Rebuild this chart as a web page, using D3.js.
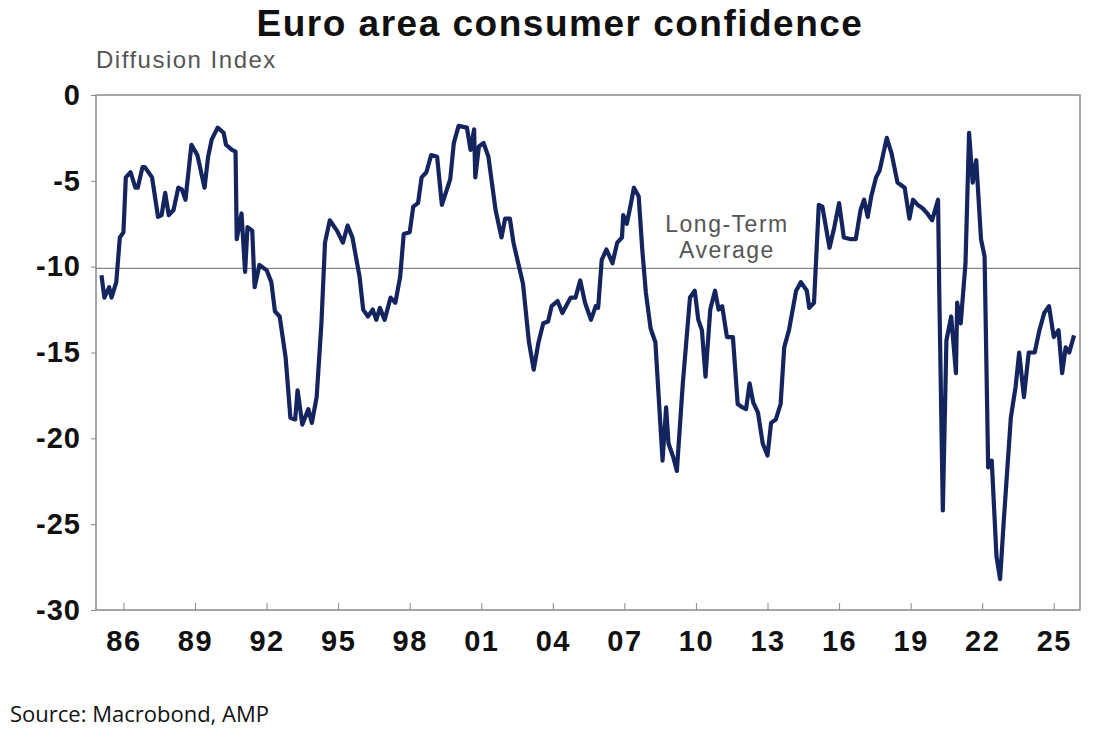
<!DOCTYPE html>
<html><head><meta charset="utf-8">
<script src="https://cdn.jsdelivr.net/npm/d3@7/dist/d3.min.js"></script>
<style>body{margin:0;background:#fff}text{font-family:Arial,"Liberation Sans",sans-serif}</style>
</head><body><svg id="c" width="1116" height="738"></svg>
<script>
const years=[1985.08,1985.2,1985.4,1985.5,1985.7,1985.85,1986,1986.1,1986.3,1986.5,1986.6,1986.8,1986.9,1987.2,1987.45,1987.6,1987.75,1987.9,1988.1,1988.3,1988.45,1988.6,1988.85,1989.1,1989.4,1989.55,1989.7,1989.95,1990.2,1990.3,1990.55,1990.7,1990.75,1990.95,1991.1,1991.2,1991.4,1991.5,1991.7,1992,1992.2,1992.35,1992.55,1992.8,1993,1993.2,1993.3,1993.5,1993.75,1993.9,1994.1,1994.3,1994.45,1994.65,1994.95,1995.2,1995.4,1995.6,1995.9,1996.05,1996.25,1996.45,1996.6,1996.75,1996.95,1997.2,1997.4,1997.6,1997.75,1998,1998.15,1998.35,1998.5,1998.7,1998.9,1999.15,1999.35,1999.7,1999.85,2000.05,2000.4,2000.55,2000.7,2000.75,2000.9,2001.1,2001.3,2001.6,2001.85,2002,2002.2,2002.35,2002.55,2002.75,2003,2003.2,2003.4,2003.6,2003.8,2003.95,2004.2,2004.4,2004.75,2004.95,2005.15,2005.35,2005.6,2005.8,2005.9,2006.05,2006.25,2006.5,2006.7,2006.9,2006.95,2007.1,2007.25,2007.4,2007.6,2007.75,2007.9,2008.1,2008.3,2008.6,2008.75,2008.85,2009.05,2009.2,2009.45,2009.75,2009.95,2010.1,2010.25,2010.4,2010.6,2010.8,2010.95,2011.1,2011.3,2011.55,2011.75,2011.95,2012.1,2012.25,2012.4,2012.6,2012.8,2013,2013.15,2013.35,2013.55,2013.7,2013.9,2014.2,2014.4,2014.65,2014.75,2014.95,2015.15,2015.3,2015.6,2015.8,2016,2016.2,2016.5,2016.7,2016.9,2017.05,2017.2,2017.35,2017.55,2017.7,2018,2018.2,2018.45,2018.75,2018.95,2019.1,2019.3,2019.5,2019.7,2019.9,2020.15,2020.2,2020.35,2020.5,2020.7,2020.9,2020.95,2021.1,2021.3,2021.45,2021.6,2021.75,2021.95,2022.1,2022.25,2022.4,2022.6,2022.75,2022.9,2023.2,2023.4,2023.55,2023.75,2023.95,2024.2,2024.4,2024.6,2024.8,2025,2025.2,2025.35,2025.5,2025.65,2025.85];
const values=[-10.5,-11.8,-11.2,-11.8,-10.9,-8.3,-8.0,-4.8,-4.5,-5.4,-5.4,-4.2,-4.2,-4.8,-7.1,-7.0,-5.7,-7.0,-6.7,-5.4,-5.5,-6.1,-2.9,-3.5,-5.4,-3.6,-2.6,-1.9,-2.2,-2.9,-3.2,-3.3,-8.4,-6.9,-10.3,-7.7,-7.9,-11.2,-9.9,-10.2,-10.9,-12.6,-12.9,-15.3,-18.8,-18.9,-17.2,-19.2,-18.3,-19.1,-17.6,-13.3,-8.6,-7.3,-7.9,-8.6,-7.6,-8.3,-10.6,-12.5,-12.9,-12.5,-13.1,-12.4,-13.1,-11.8,-12.1,-10.6,-8.1,-8.0,-6.5,-6.3,-4.8,-4.5,-3.5,-3.6,-6.4,-4.9,-2.8,-1.8,-1.9,-3.2,-2.0,-4.8,-3.0,-2.8,-3.6,-6.7,-8.3,-7.2,-7.2,-8.6,-9.8,-11.0,-14.4,-16.0,-14.4,-13.3,-13.2,-12.3,-12.0,-12.7,-11.8,-11.8,-10.8,-12.1,-13.1,-12.3,-12.4,-9.6,-9.0,-9.8,-8.6,-8.3,-7.0,-7.5,-6.5,-5.4,-5.9,-9.0,-11.5,-13.6,-14.4,-21.3,-18.2,-20.3,-21.1,-21.9,-16.8,-11.8,-11.4,-13.1,-13.7,-16.4,-12.5,-11.4,-12.5,-12.3,-14.1,-14.1,-18.0,-18.2,-18.3,-16.8,-17.9,-18.5,-20.3,-21.0,-19.1,-18.9,-18.0,-14.7,-13.7,-11.4,-10.9,-11.4,-12.4,-12.1,-6.4,-6.5,-8.9,-7.7,-6.3,-8.3,-8.4,-8.4,-6.7,-6.1,-7.1,-5.9,-4.8,-4.4,-2.5,-3.4,-5.1,-5.4,-7.2,-6.1,-6.4,-6.6,-6.9,-7.3,-6.1,-11.4,-24.2,-14.3,-12.9,-16.2,-12.1,-13.3,-9.8,-2.2,-5.1,-3.8,-8.4,-9.4,-21.7,-21.3,-26.9,-28.2,-24.9,-18.8,-17.0,-15.0,-17.6,-15.0,-15.0,-13.7,-12.7,-12.3,-14.1,-13.7,-16.2,-14.7,-15.0,-14.0];
const longTermAverage=-10.1;
const yTicks=[0,-5,-10,-15,-20,-25,-30];
const xTickYears=[1986,1989,1992,1995,1998,2001,2004,2007,2010,2013,2016,2019,2022,2025];

const svg=d3.select("#c");
const L=96,R=1080,T=95,B=610;
const x=d3.scaleLinear().domain([1984.85,2026.1]).range([L,R]);
const y=d3.scaleLinear().domain([-30,0]).range([B,T]);

svg.append("text").attr("x",560).attr("y",36).attr("text-anchor","middle")
  .attr("font-size",37).attr("font-weight","bold").attr("letter-spacing",1.5).attr("fill","#111").text("Euro area consumer confidence");
svg.append("text").attr("x",96).attr("y",68).attr("font-size",24).attr("letter-spacing",1.5).attr("fill","#555").text("Diffusion Index");

svg.append("rect").attr("x",L).attr("y",T).attr("width",R-L).attr("height",B-T)
  .attr("fill","none").attr("stroke","#888").attr("stroke-width",1.5);

const ya=svg.append("g").attr("transform",`translate(${L},0)`)
  .call(d3.axisLeft(y).tickValues(yTicks).tickSize(5).tickPadding(10).tickFormat(d=>String(d)));
ya.select(".domain").remove();
ya.selectAll("line").attr("stroke","#888");
ya.selectAll("text").attr("font-size",29).attr("font-weight","bold").attr("letter-spacing",1).attr("fill","#111");

const xa=svg.append("g").attr("transform",`translate(0,${B})`)
  .call(d3.axisBottom(x).tickValues(xTickYears).tickSizeInner(-7).tickSizeOuter(0).tickPadding(20).tickFormat(d=>String(d%100).padStart(2,"0")));
xa.select(".domain").remove();
xa.selectAll("line").attr("stroke","#888");
xa.selectAll("text").attr("font-size",29).attr("font-weight","bold").attr("letter-spacing",1.5).attr("fill","#111");

svg.append("line").attr("x1",L).attr("x2",R).attr("y1",y(longTermAverage)).attr("y2",y(longTermAverage))
  .attr("stroke","#888").attr("stroke-width",1.3);
svg.append("text").attr("x",727).attr("y",232).attr("text-anchor","middle").attr("font-size",23).attr("letter-spacing",1.5).attr("fill","#555").text("Long-Term");
svg.append("text").attr("x",727).attr("y",258).attr("text-anchor","middle").attr("font-size",23).attr("letter-spacing",1.5).attr("fill","#555").text("Average");

const data=years.map((d,i)=>[d,values[i]]);
svg.append("path").datum(data).attr("fill","none").attr("stroke","#14245e").attr("stroke-width",4.2)
  .attr("stroke-linejoin","round").attr("d",d3.line().x(d=>x(d[0])).y(d=>y(d[1])));

svg.append("text").attr("x",10).attr("y",722).attr("font-size",22).attr("fill","#111")
  .style("font-family","'Open Sans',sans-serif").text("Source: Macrobond, AMP");
</script></body></html>
